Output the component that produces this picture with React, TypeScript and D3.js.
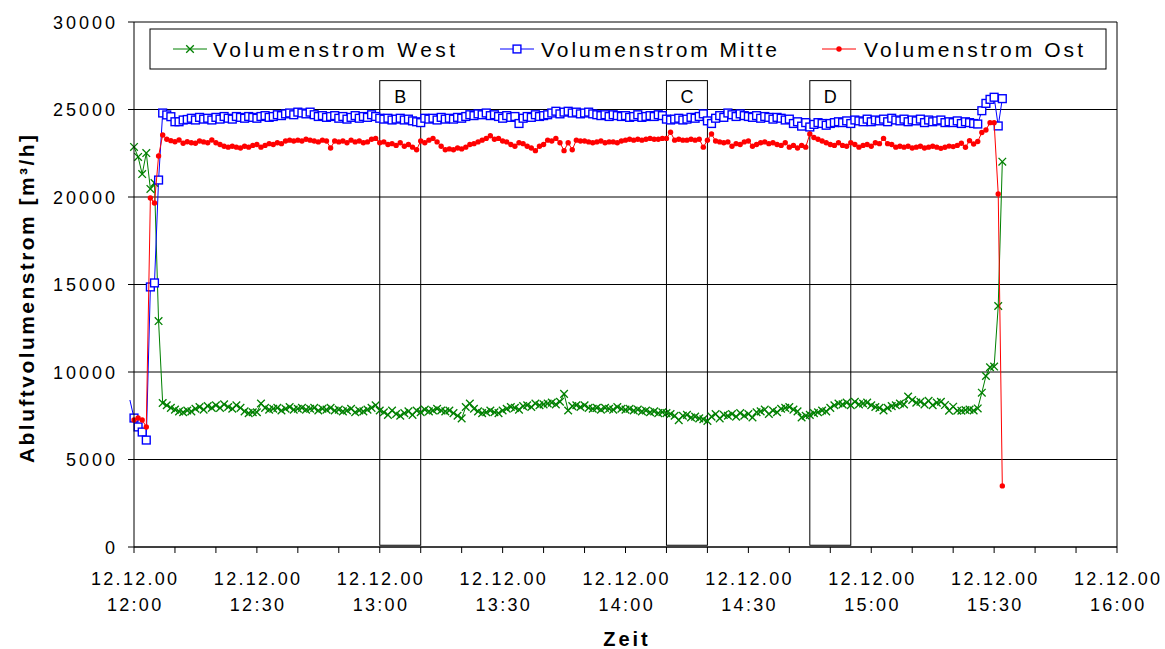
import React from 'react';
import * as d3 from 'd3';

// ---------- data ----------
const startTime = new Date(2000, 11, 12, 12, 0);
const endTime = new Date(2000, 11, 12, 16, 0);

const westStartMinute = 0;
const westValues = [
  22860, 22290, 21310, 22510, 20460, 20800, 12910, 8230, 8100, 7950,
  7850, 7750, 7700, 7800, 7750, 7900, 8000, 7850, 8050, 7950,
  8100, 7950, 8150, 8000, 7900, 8100, 7950, 7750, 7650, 7700,
  7700, 8200, 7950, 7850, 7900, 7950, 7800, 7900, 8000, 7850,
  7900, 7950, 7850, 7900, 7950, 7800, 7900, 7850, 7950, 7800,
  7850, 7750, 7800, 7900, 7700, 7800, 7750, 7850, 7950, 8100,
  7800, 7700, 7550, 7800, 7600, 7500, 7650, 7750, 7550, 7800,
  7700, 7850, 7750, 7800, 7900, 7800, 7750, 7800, 7650, 7500,
  7350, 8000, 8200, 7900, 7750, 7650, 7700, 7800, 7700, 7650,
  7800, 7900, 8000, 7950, 7850, 8050, 8100, 8000, 8200, 8100,
  8150, 8200, 8250, 8150, 8300, 8750, 7800, 8050, 8100, 8000,
  8100, 7950, 7900, 7950, 7850, 7950, 7900, 7850, 8000, 7900,
  7850, 7900, 7800, 7850, 7750, 7800, 7700, 7750, 7650, 7700,
  7650, 7600, 7500, 7250, 7500, 7550, 7400, 7450, 7350, 7300,
  7200, 7450, 7600, 7350, 7550, 7500, 7600, 7450, 7650, 7500,
  7600, 7400, 7700, 7750, 7850, 7600, 7800, 7700, 7900, 7950,
  8000, 7850, 7750, 7400, 7500, 7550, 7650, 7700, 7800, 7750,
  7950, 8100, 8200, 8150, 8250, 8100, 8300, 8150, 8200, 8250,
  8100, 8000, 7950, 7800, 7950, 8050, 8100, 8200, 8150, 8600,
  8400, 8250, 8300, 8150, 8350, 8100, 8250, 8300, 8110, 7790,
  8020, 7790, 7790, 7830, 7850, 7800, 7920, 8820, 9770, 10270, 10310, 13770, 22020,
];

const mitteStartMinute = -1;
const mitteValues = [
  8400,
  7370, 6860, 6570, 6110, 14860, 15090, 20970, 24800, 24690, 24590,
  24300, 24300, 24400, 24430, 24500, 24400, 24550, 24450, 24500, 24400,
  24550, 24450, 24600, 24500, 24450, 24600, 24550, 24500, 24600, 24550,
  24500, 24600, 24650, 24550, 24600, 24700, 24650, 24750, 24800, 24700,
  24850, 24800, 24750, 24850, 24700, 24600, 24650, 24550, 24600, 24650,
  24500, 24600, 24450, 24550, 24650, 24500, 24600, 24550, 24700, 24600,
  24500, 24450, 24500, 24400, 24450, 24500, 24400, 24450, 24350, 24300,
  24250, 24500, 24450, 24500, 24400, 24550, 24450, 24500, 24450, 24550,
  24500, 24600, 24700, 24650, 24750, 24700, 24800, 24650, 24700, 24600,
  24500, 24650, 24550, 24600, 24200, 24500, 24600, 24550, 24700, 24600,
  24650, 24700, 24800, 24900, 24750, 24850, 24900, 24800, 24850, 24750,
  24800, 24850, 24750, 24700, 24650, 24700, 24600, 24700, 24650, 24600,
  24650, 24550, 24600, 24700, 24550, 24600, 24650, 24600, 24700, 24650,
  24450, 24400, 24450, 24500, 24400, 24450, 24550, 24500, 24600, 24750,
  24350, 24200, 24500, 24650, 24550, 24800, 24700, 24600, 24750, 24650,
  24600, 24550, 24650, 24500, 24600, 24550, 24450, 24550, 24500, 24400,
  24450, 24200, 24300, 24050, 24250, 24000, 24150, 24250, 24200, 24100,
  24200, 24250, 24300, 24250, 24350, 24200, 24400, 24350, 24300, 24450,
  24300, 24400, 24350, 24450, 24300, 24500, 24400, 24350, 24450, 24300,
  24400, 24350, 24450, 24250, 24400, 24300, 24350, 24400, 24250, 24300,
  24250, 24350, 24200, 24300, 24250, 24200, 24170, 24930, 25350, 25580, 25700, 24060, 25620,
];

const ostStartMinute = 0;
const ostValues = [
  7260, 7370, 7260, 6860, 19940, 19660, 22340, 23540, 23300, 23220,
  23160, 23260, 23070, 23160, 23100, 23070, 23200, 23150, 23100, 23260,
  23100, 23000, 22900, 22850, 22900, 22850, 22800, 22900, 22850, 22950,
  23000, 22850, 22950, 23050, 23000, 23100, 23050, 23200, 23250, 23200,
  23250, 23200, 23300, 23250, 23200, 23150, 23250, 23200, 22800, 23200,
  23150, 23200, 23100, 23250, 23150, 23200, 23100, 23150, 23300, 23350,
  23100, 23150, 23000, 23050, 22950, 23100, 22900, 23000, 22850, 22700,
  23200, 23100, 23250, 23350, 23150, 22900, 22700, 22750, 22700, 22800,
  22750, 22850, 23000, 23050, 23150, 23250, 23350, 23500, 23300, 23350,
  23200, 23150, 23000, 22900, 23100, 23050, 22900, 22800, 22650, 22900,
  23000, 23250, 23200, 23350, 23100, 22650, 23100, 22700, 23250, 23200,
  23200, 23150, 23100, 23150, 23200, 23100, 23150, 23150, 23100, 23200,
  23250, 23300, 23250, 23300, 23250, 23300, 23350, 23300, 23300, 23350,
  23350, 23700, 23250, 23300, 23250, 23250, 23300, 23250, 23300, 22850,
  23250, 23600, 23200, 23150, 23100, 23150, 22900, 23050, 23000, 23150,
  23200, 22900, 23000, 23100, 23150, 23050, 23100, 23000, 22950, 23100,
  22850, 22950, 22800, 22950, 22850, 23600, 23400, 23300, 23200, 23100,
  23000, 22950, 23100, 22950, 22900, 23100, 23000, 22850, 22950, 23000,
  22900, 23100, 23050, 23350, 23050, 23000, 22850, 22900, 22850, 22900,
  22800, 22850, 22900, 22800, 22850, 22900, 22850, 22780, 22840, 22910,
  22880, 22950, 23070, 22840, 23220, 23030, 23170, 23690, 23830, 24250, 24250, 20170, 3490,
];

const yTickValues = [0, 5000, 10000, 15000, 20000, 25000, 30000];
const boxLabels = ['B', 'C', 'D'];
const boxStartMinutes = [60, 130, 165];
const boxEndMinutes = [70, 140, 175];
const boxTopValue = 26650;
const boxBottomValue = 100;
const legendLabels = ['Volumenstrom West', 'Volumenstrom Mitte', 'Volumenstrom Ost'];
const xTitle = 'Zeit';
const yTitle = 'Abluftvolumenstrom [m³/h]';

// ---------- layout ----------
const W = 1165;
const H = 649;
const left = 134;
const right = 1117;
const top = 22;
const bottom = 547;
const FONT = "'Liberation Sans', Arial, Helvetica, sans-serif";

type Marker = 'x' | 'square' | 'circle';
const seriesDefs = [
  { name: legendLabels[0], values: westValues, start: westStartMinute, color: '#008000', marker: 'x' as Marker },
  { name: legendLabels[1], values: mitteValues, start: mitteStartMinute, color: '#0000FF', marker: 'square' as Marker },
  { name: legendLabels[2], values: ostValues, start: ostStartMinute, color: '#FF0000', marker: 'circle' as Marker },
];

function MarkerShape({ type, cx, cy, color }: { type: Marker; cx: number; cy: number; color: string }) {
  if (type === 'x') {
    const s = 3.8;
    return (
      <g stroke={color} strokeWidth={1.3}>
        <line x1={cx - s} y1={cy - s} x2={cx + s} y2={cy + s} />
        <line x1={cx - s} y1={cy + s} x2={cx + s} y2={cy - s} />
      </g>
    );
  }
  if (type === 'square') {
    const s = 3.9;
    return <rect x={cx - s} y={cy - s} width={2 * s} height={2 * s} fill="#fff" stroke={color} strokeWidth={1.4} />;
  }
  return <circle cx={cx} cy={cy} r={2.7} fill={color} />;
}

export default function App() {
  const x = d3.scaleTime().domain([startTime, endTime]).range([left, right]);
  const y = d3.scaleLinear().domain([0, 30000]).range([bottom, top]);
  const minuteTicks = d3.timeMinute.every(10)!.range(startTime, d3.timeMinute.offset(endTime, 1));
  const labelTicks = d3.timeMinute.every(30)!.range(startTime, d3.timeMinute.offset(endTime, 1));
  const fmtDate = d3.timeFormat('%d.%m.%y');
  const fmtTime = d3.timeFormat('%H:%M');

  const line = d3
    .line<{ t: Date; v: number }>()
    .x((d) => x(d.t))
    .y((d) => y(d.v));

  const series = seriesDefs.map((s) => ({
    ...s,
    points: s.values.map((v, i) => ({ t: d3.timeMinute.offset(startTime, s.start + i), v, m: s.start + i })),
  }));

  const legendItems = [
    { lineX: 173, textX: 213, textLen: 242 },
    { lineX: 500, textX: 541, textLen: 236 },
    { lineX: 822, textX: 864, textLen: 219 },
  ];

  return (
    <svg width={W} height={H} style={{ position: 'absolute', left: 0, top: 0, background: '#fff' }} fontFamily={FONT}>
      <rect x={0} y={0} width={W} height={H} fill="#fff" />
      {yTickValues.map((v) => (
        <line key={'g' + v} x1={left} x2={right} y1={y(v)} y2={y(v)} stroke="#000" strokeWidth={1} />
      ))}
      <line x1={right} x2={right} y1={top} y2={bottom} stroke="#000" strokeWidth={1} />

      {boxLabels.map((lab, i) => {
        const x0 = x(d3.timeMinute.offset(startTime, boxStartMinutes[i]));
        const x1 = x(d3.timeMinute.offset(startTime, boxEndMinutes[i]));
        return (
          <g key={lab}>
            <rect x={x0} y={y(boxTopValue)} width={x1 - x0} height={y(boxBottomValue) - y(boxTopValue)} fill="none" stroke="#000" strokeWidth={1} />
            <text x={(x0 + x1) / 2} y={y(boxTopValue) + 22} textAnchor="middle" fontSize={18}>
              {lab}
            </text>
          </g>
        );
      })}

      {series.map((s) => (
        <g key={s.name}>
          <path d={line(s.points) || ''} fill="none" stroke={s.color} strokeWidth={1} />
          {s.points
            .filter((p) => p.m >= 0)
            .map((p, i) => (
              <MarkerShape key={i} type={s.marker} cx={x(p.t)} cy={y(p.v)} color={s.color} />
            ))}
        </g>
      ))}

      <line x1={left} x2={left} y1={top} y2={bottom} stroke="#000" strokeWidth={1} />
      <line x1={left} x2={right} y1={bottom} y2={bottom} stroke="#000" strokeWidth={1} />
      {yTickValues.map((v) => (
        <g key={'yt' + v}>
          <line x1={left - 6} x2={left} y1={y(v)} y2={y(v)} stroke="#000" />
          <text x={118} y={y(v) + 6.5} textAnchor="end" fontSize={18} letterSpacing={3} fill="#000">
            {v}
          </text>
        </g>
      ))}
      {minuteTicks.map((t) => (
        <line key={'xt' + t.getTime()} x1={x(t)} x2={x(t)} y1={bottom} y2={bottom + 6} stroke="#000" />
      ))}
      {labelTicks.map((t) => (
        <g key={'xl' + t.getTime()}>
          <text x={x(t) + 1.2} y={585} textAnchor="middle" fontSize={18} letterSpacing={2.3}>
            {fmtDate(t)}
          </text>
          <text x={x(t) + 1.2} y={611} textAnchor="middle" fontSize={18} letterSpacing={2.3}>
            {fmtTime(t)}
          </text>
        </g>
      ))}

      <text x={(left + right) / 2 + 1.5} y={646} textAnchor="middle" fontSize={20} fontWeight="bold" letterSpacing={3}>
        {xTitle}
      </text>
      <text
        transform={`translate(34,299) rotate(-90)`}
        textAnchor="middle"
        fontSize={21}
        fontWeight="bold"
        textLength={328}
        lengthAdjust="spacing"
      >
        {yTitle}
      </text>

      <rect x={150} y={29} width={956} height={40} fill="#fff" stroke="#000" strokeWidth={1} />
      {series.map((s, i) => {
        const li = legendItems[i];
        return (
          <g key={'lg' + i}>
            <line x1={li.lineX} x2={li.lineX + 34} y1={49} y2={49} stroke={s.color} strokeWidth={1} />
            <MarkerShape type={s.marker} cx={li.lineX + 17} cy={49} color={s.color} />
            <text x={li.textX} y={57} fontSize={21} textLength={li.textLen} lengthAdjust="spacing">
              {s.name}
            </text>
          </g>
        );
      })}
    </svg>
  );
}
